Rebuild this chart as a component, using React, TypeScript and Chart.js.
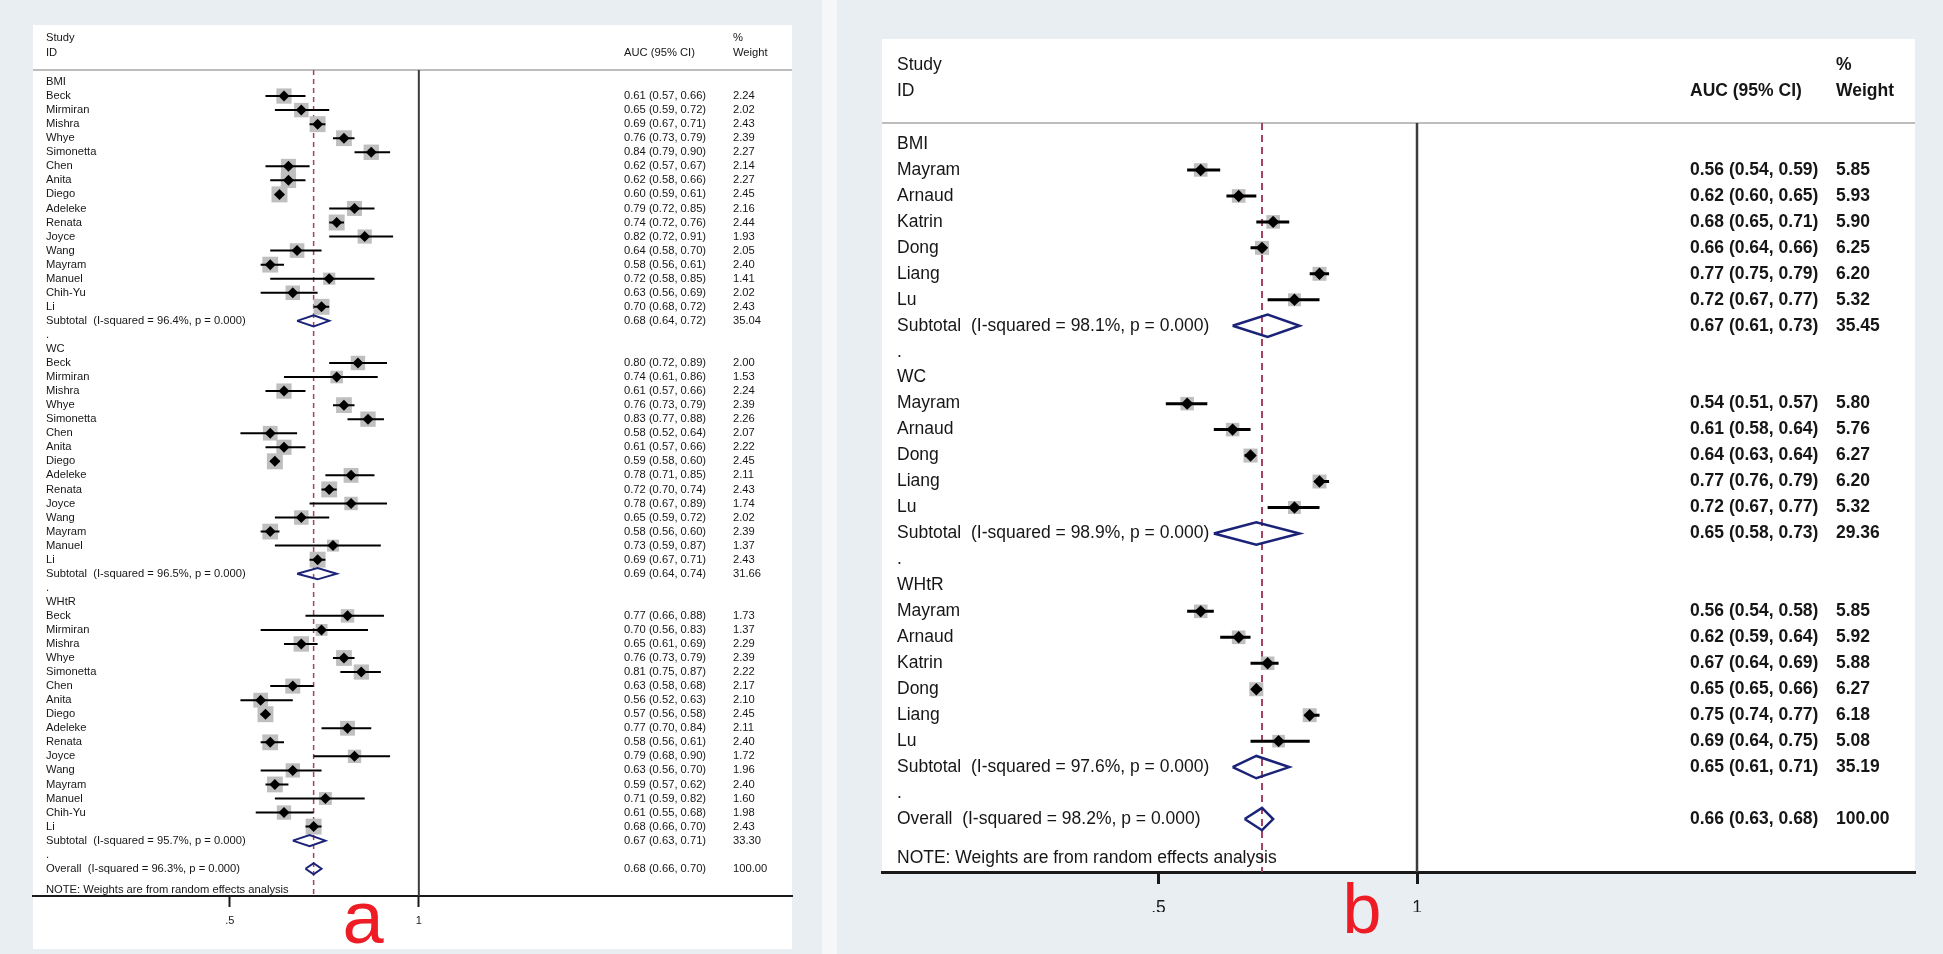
import React, { useEffect, useRef } from 'react';
import { Chart, registerables } from 'chart.js';

Chart.register(...registerables);

const FONT = '"Liberation Sans", Arial, Helvetica, sans-serif';
Chart.defaults.font.family = FONT;

// ---------------- shared ----------------
const groupNames = ['BMI', 'WC', 'WHtR'];
const tickValues = [0.5, 1];
const tickLabels = ['.5', '1'];

// ---------------- panel a ----------------
const aBmiStudies = ['Beck', 'Mirmiran', 'Mishra', 'Whye', 'Simonetta', 'Chen', 'Anita', 'Diego', 'Adeleke', 'Renata', 'Joyce', 'Wang', 'Mayram', 'Manuel', 'Chih-Yu', 'Li'];
const aBmiAuc = [0.61, 0.65, 0.69, 0.76, 0.84, 0.62, 0.62, 0.60, 0.79, 0.74, 0.82, 0.64, 0.58, 0.72, 0.63, 0.70];
const aBmiLo = [0.57, 0.59, 0.67, 0.73, 0.79, 0.57, 0.58, 0.59, 0.72, 0.72, 0.72, 0.58, 0.56, 0.58, 0.56, 0.68];
const aBmiHi = [0.66, 0.72, 0.71, 0.79, 0.90, 0.67, 0.66, 0.61, 0.85, 0.76, 0.91, 0.70, 0.61, 0.85, 0.69, 0.72];
const aBmiWeight = [2.24, 2.02, 2.43, 2.39, 2.27, 2.14, 2.27, 2.45, 2.16, 2.44, 1.93, 2.05, 2.40, 1.41, 2.02, 2.43];

const aWcStudies = ['Beck', 'Mirmiran', 'Mishra', 'Whye', 'Simonetta', 'Chen', 'Anita', 'Diego', 'Adeleke', 'Renata', 'Joyce', 'Wang', 'Mayram', 'Manuel', 'Li'];
const aWcAuc = [0.80, 0.74, 0.61, 0.76, 0.83, 0.58, 0.61, 0.59, 0.78, 0.72, 0.78, 0.65, 0.58, 0.73, 0.69];
const aWcLo = [0.72, 0.61, 0.57, 0.73, 0.77, 0.52, 0.57, 0.58, 0.71, 0.70, 0.67, 0.59, 0.56, 0.59, 0.67];
const aWcHi = [0.89, 0.86, 0.66, 0.79, 0.88, 0.64, 0.66, 0.60, 0.85, 0.74, 0.89, 0.72, 0.60, 0.87, 0.71];
const aWcWeight = [2.00, 1.53, 2.24, 2.39, 2.26, 2.07, 2.22, 2.45, 2.11, 2.43, 1.74, 2.02, 2.39, 1.37, 2.43];

const aWhtrStudies = ['Beck', 'Mirmiran', 'Mishra', 'Whye', 'Simonetta', 'Chen', 'Anita', 'Diego', 'Adeleke', 'Renata', 'Joyce', 'Wang', 'Mayram', 'Manuel', 'Chih-Yu', 'Li'];
const aWhtrAuc = [0.77, 0.70, 0.65, 0.76, 0.81, 0.63, 0.56, 0.57, 0.77, 0.58, 0.79, 0.63, 0.59, 0.71, 0.61, 0.68];
const aWhtrLo = [0.66, 0.56, 0.61, 0.73, 0.75, 0.58, 0.52, 0.56, 0.70, 0.56, 0.68, 0.56, 0.57, 0.59, 0.55, 0.66];
const aWhtrHi = [0.88, 0.83, 0.69, 0.79, 0.87, 0.68, 0.63, 0.58, 0.84, 0.61, 0.90, 0.70, 0.62, 0.82, 0.68, 0.70];
const aWhtrWeight = [1.73, 1.37, 2.29, 2.39, 2.22, 2.17, 2.10, 2.45, 2.11, 2.40, 1.72, 1.96, 2.40, 1.60, 1.98, 2.43];

const aSubI2 = [96.4, 96.5, 95.7];
const aSubAuc = [0.68, 0.69, 0.67];
const aSubLo = [0.64, 0.64, 0.63];
const aSubHi = [0.72, 0.74, 0.71];
const aSubWeight = [35.04, 31.66, 33.30];
const aOverall = [0.68, 0.66, 0.70]; // AUC, lower, upper
const aOverallI2 = 96.3;

// ---------------- panel b ----------------
const bBmiStudies = ['Mayram', 'Arnaud', 'Katrin', 'Dong', 'Liang', 'Lu'];
const bBmiAuc = [0.56, 0.62, 0.68, 0.66, 0.77, 0.72];
const bBmiLo = [0.54, 0.60, 0.65, 0.64, 0.75, 0.67];
const bBmiHi = [0.59, 0.65, 0.71, 0.66, 0.79, 0.77];
const bBmiWeight = [5.85, 5.93, 5.90, 6.25, 6.20, 5.32];

const bWcStudies = ['Mayram', 'Arnaud', 'Dong', 'Liang', 'Lu'];
const bWcAuc = [0.54, 0.61, 0.64, 0.77, 0.72];
const bWcLo = [0.51, 0.58, 0.63, 0.76, 0.67];
const bWcHi = [0.57, 0.64, 0.64, 0.79, 0.77];
const bWcWeight = [5.80, 5.76, 6.27, 6.20, 5.32];

const bWhtrStudies = ['Mayram', 'Arnaud', 'Katrin', 'Dong', 'Liang', 'Lu'];
const bWhtrAuc = [0.56, 0.62, 0.67, 0.65, 0.75, 0.69];
const bWhtrLo = [0.54, 0.59, 0.64, 0.65, 0.74, 0.64];
const bWhtrHi = [0.58, 0.64, 0.69, 0.66, 0.77, 0.75];
const bWhtrWeight = [5.85, 5.92, 5.88, 6.27, 6.18, 5.08];

const bSubI2 = [98.1, 98.9, 97.6];
const bSubAuc = [0.67, 0.65, 0.65];
const bSubLo = [0.61, 0.58, 0.61];
const bSubHi = [0.73, 0.73, 0.71];
const bSubWeight = [35.45, 29.36, 35.19];
const bOverall = [0.66, 0.63, 0.68];
const bOverallI2 = 98.2;

// ---------------- build rows ----------------
type Row = {
  kind: 'group' | 'study' | 'sub' | 'dot' | 'overall' | 'note';
  label: string;
  y: number;
  auc?: number;
  lo?: number;
  hi?: number;
  w?: number;
};

function buildRows(
  studies: string[][], auc: number[][], lo: number[][], hi: number[][], w: number[][],
  subI2: number[], subAuc: number[], subLo: number[], subHi: number[], subW: number[],
  overall: number[], overallI2: number
): Row[] {
  const rows: Row[] = [];
  let y = 0;
  groupNames.forEach((g, gi) => {
    rows.push({ kind: 'group', label: g, y: y++ });
    studies[gi].forEach((s, i) =>
      rows.push({ kind: 'study', label: s, y: y++, auc: auc[gi][i], lo: lo[gi][i], hi: hi[gi][i], w: w[gi][i] })
    );
    rows.push({
      kind: 'sub', label: `Subtotal  (I-squared = ${subI2[gi].toFixed(1)}%, p = 0.000)`, y: y++,
      auc: subAuc[gi], lo: subLo[gi], hi: subHi[gi], w: subW[gi],
    });
    rows.push({ kind: 'dot', label: '.', y: y++ });
  });
  rows.push({
    kind: 'overall', label: `Overall  (I-squared = ${overallI2.toFixed(1)}%, p = 0.000)`, y,
    auc: overall[0], lo: overall[1], hi: overall[2], w: 100,
  });
  rows.push({ kind: 'note', label: 'NOTE: Weights are from random effects analysis', y: y + 1.5 });
  return rows;
}

const rowsA = buildRows(
  [aBmiStudies, aWcStudies, aWhtrStudies],
  [aBmiAuc, aWcAuc, aWhtrAuc], [aBmiLo, aWcLo, aWhtrLo], [aBmiHi, aWcHi, aWhtrHi], [aBmiWeight, aWcWeight, aWhtrWeight],
  aSubI2, aSubAuc, aSubLo, aSubHi, aSubWeight, aOverall, aOverallI2
);
const rowsB = buildRows(
  [bBmiStudies, bWcStudies, bWhtrStudies],
  [bBmiAuc, bWcAuc, bWhtrAuc], [bBmiLo, bWcLo, bWhtrLo], [bBmiHi, bWcHi, bWhtrHi], [bBmiWeight, bWcWeight, bWhtrWeight],
  bSubI2, bSubAuc, bSubLo, bSubHi, bSubWeight, bOverall, bOverallI2
);

// ---------------- styles ----------------
const BG = '#e8eef1';

type Spec = {
  width: number;
  xMin: number; xMax: number; yMin: number; yMax: number;
  pad: { left: number; right: number; top: number; bottom: number };
  whiteTop: number; whiteBottom: number | null;
  fontSize: number; numWeight: string; headWeight: string;
  nameX: number; aucX: number; weightX: number; headerRows: [number, number];
  squareK: number; markerR: number; ciWidth: number; diamondH: number; diamondW: number;
  refWidth: number; dash: number[]; dashWidth: number;
  tickFont: number; tickLength: number; tickPadding: number; axisWidth: number;
  letter: string; letterX: number; letterY: number; letterSize: number;
};

const specA: Spec = {
  width: 822,
  xMin: 0.2431, xMax: 3.927, yMin: -0.854, yMax: 57.94,
  pad: { left: 33, right: 30, top: 70, bottom: 18 },
  whiteTop: 25, whiteBottom: 949,
  fontSize: 11.2, numWeight: 'normal', headWeight: 'normal',
  nameX: 46, aucX: 624, weightX: 733, headerRows: [-3.13, -2.06],
  squareK: 10.2, markerR: 5.5, ciWidth: 2, diamondH: 0.4, diamondW: 2,
  refWidth: 2, dash: [5, 4], dashWidth: 1.5,
  tickFont: 11, tickLength: 11, tickPadding: 7, axisWidth: 2,
  letter: 'a', letterX: 363, letterY: 943, letterSize: 74,
};

const specB: Spec = {
  width: 1106,
  xMin: 0.2383, xMax: 3.80, yMin: -0.809, yMax: 28.04,
  pad: { left: 45, right: 28, top: 123, bottom: 42 },
  whiteTop: 39, whiteBottom: null,
  fontSize: 17.5, numWeight: 'bold', headWeight: 'bold',
  nameX: 60, aucX: 853, weightX: 999, headerRows: [-3.04, -2.04],
  squareK: 5.6, markerR: 6.2, ciWidth: 3, diamondH: 0.43, diamondW: 2.5,
  refWidth: 2.5, dash: [7, 5], dashWidth: 2,
  tickFont: 17.5, tickLength: 12, tickPadding: 14, axisWidth: 3,
  letter: 'b', letterX: 525, letterY: 933, letterSize: 70,
};

const fmt = (v: number) => v.toFixed(2);

function makeChart(canvas: HTMLCanvasElement, rows: Row[], sp: Spec) {
  const studies = rows.filter((r) => r.kind === 'study');
  const summaries = rows.filter((r) => r.kind === 'sub' || r.kind === 'overall');
  const overallRow = rows.find((r) => r.kind === 'overall')!;

  const ciData: any[] = [];
  studies.forEach((r) => {
    ciData.push({ x: r.lo, y: r.y }, { x: r.hi, y: r.y }, { x: r.hi, y: null });
  });
  const diaData: any[] = [];
  summaries.forEach((r) => {
    const h = sp.diamondH;
    diaData.push(
      { x: r.lo, y: r.y }, { x: r.auc, y: r.y - h }, { x: r.hi, y: r.y },
      { x: r.auc, y: r.y + h }, { x: r.lo, y: r.y }, { x: r.lo, y: null }
    );
  });

  const bgPlugin = {
    id: 'bg',
    beforeDraw(chart: any) {
      const { ctx, chartArea: ca } = chart;
      ctx.save();
      ctx.fillStyle = BG;
      ctx.fillRect(0, 0, chart.width, chart.height);
      ctx.fillStyle = '#ffffff';
      const bottom = sp.whiteBottom ?? ca.bottom;
      ctx.fillRect(ca.left, sp.whiteTop, ca.right - ca.left, bottom - sp.whiteTop);
      ctx.strokeStyle = '#bdbdbd';
      ctx.lineWidth = 2;
      ctx.beginPath();
      ctx.moveTo(ca.left, ca.top);
      ctx.lineTo(ca.right, ca.top);
      ctx.stroke();
      ctx.restore();
    },
  };

  const textPlugin = {
    id: 'texts',
    afterDraw(chart: any) {
      const { ctx } = chart;
      const ys = chart.scales.y;
      ctx.save();
      ctx.fillStyle = '#161616';
      ctx.textBaseline = 'middle';
      ctx.textAlign = 'left';
      const nameFont = `normal ${sp.fontSize}px ${FONT}`;
      const numFont = `${sp.numWeight} ${sp.fontSize}px ${FONT}`;
      const headFont = `${sp.headWeight} ${sp.fontSize}px ${FONT}`;
      const h0 = ys.getPixelForValue(sp.headerRows[0]);
      const h1 = ys.getPixelForValue(sp.headerRows[1]);
      ctx.font = nameFont;
      ctx.fillText('Study', sp.nameX, h0);
      ctx.fillText('ID', sp.nameX, h1);
      ctx.font = headFont;
      ctx.fillText('AUC (95% CI)', sp.aucX, h1);
      ctx.fillText('%', sp.weightX, h0);
      ctx.fillText('Weight', sp.weightX, h1);
      rows.forEach((r) => {
        const py = ys.getPixelForValue(r.y);
        ctx.font = nameFont;
        ctx.fillText(r.label, sp.nameX, py);
        if (r.auc !== undefined) {
          ctx.font = numFont;
          ctx.fillText(`${fmt(r.auc)} (${fmt(r.lo!)}, ${fmt(r.hi!)})`, sp.aucX, py);
          ctx.fillText((r.w as number).toFixed(2), sp.weightX, py);
        }
      });
      ctx.fillStyle = '#ee1c25';
      ctx.textAlign = 'center';
      ctx.textBaseline = 'alphabetic';
      ctx.font = `normal ${sp.letterSize}px ${FONT}`;
      ctx.fillText(sp.letter, sp.letterX, sp.letterY);
      ctx.restore();
    },
  };

  return new Chart(canvas, {
    type: 'scatter',
    data: {
      datasets: [
        {
          type: 'scatter',
          data: studies.map((r) => ({ x: r.auc, y: r.y })),
          pointStyle: 'rectRot',
          pointRadius: sp.markerR,
          pointBackgroundColor: '#000000',
          pointBorderWidth: 0,
          order: 0,
        } as any,
        {
          type: 'line',
          data: diaData,
          borderColor: '#1b2378',
          borderWidth: sp.diamondW,
          pointRadius: 0,
          fill: false,
          tension: 0,
          spanGaps: false,
          borderJoinStyle: 'miter',
          order: 1,
        } as any,
        {
          type: 'line',
          data: ciData,
          borderColor: '#000000',
          borderWidth: sp.ciWidth,
          pointRadius: 0,
          fill: false,
          spanGaps: false,
          borderCapStyle: 'butt',
          order: 2,
        } as any,
        {
          type: 'scatter',
          data: studies.map((r) => ({ x: r.auc, y: r.y })),
          pointStyle: 'rect',
          pointRadius: (c: any) => (sp.squareK * Math.sqrt(studies[c.dataIndex].w as number)) / Math.SQRT2,
          pointBackgroundColor: '#bfbfbf',
          pointBorderWidth: 0,
          order: 3,
        } as any,
        {
          type: 'line',
          data: [{ x: overallRow.auc, y: sp.yMin }, { x: overallRow.auc, y: sp.yMax }],
          borderColor: '#a3435f',
          borderWidth: sp.dashWidth,
          borderDash: sp.dash,
          pointRadius: 0,
          fill: false,
          order: 4,
        } as any,
        {
          type: 'line',
          data: [{ x: 1, y: sp.yMin }, { x: 1, y: sp.yMax }],
          borderColor: '#3c3c3c',
          borderWidth: sp.refWidth,
          pointRadius: 0,
          fill: false,
          order: 5,
        } as any,
      ],
    },
    options: {
      animation: false,
      responsive: false,
      devicePixelRatio: 1,
      events: [],
      layout: { padding: sp.pad },
      plugins: { legend: { display: false }, tooltip: { enabled: false }, title: { display: false } },
      scales: {
        x: {
          type: 'logarithmic',
          position: 'bottom',
          min: sp.xMin,
          max: sp.xMax,
          bounds: 'data',
          afterBuildTicks: (s: any) => {
            s.ticks = tickValues.map((v) => ({ value: v }));
          },
          afterFit: (s: any) => {
            s.height = 40;
          },
          ticks: {
            autoSkip: false,
            maxRotation: 0,
            padding: sp.tickPadding,
            color: '#1a1a1a',
            font: { family: FONT, size: sp.tickFont },
            callback: (_v: any, i: number) => tickLabels[i],
          },
          grid: {
            display: true,
            drawOnChartArea: false,
            drawTicks: true,
            tickLength: sp.tickLength,
            tickWidth: sp.axisWidth,
            tickColor: '#1a1a1a',
            color: '#1a1a1a',
          },
          border: { display: true, color: '#1a1a1a', width: sp.axisWidth },
        } as any,
        y: {
          type: 'linear',
          reverse: true,
          min: sp.yMin,
          max: sp.yMax,
          display: false,
        },
      },
    },
    plugins: [bgPlugin, textPlugin],
  } as any);
}

function ForestPanel({ rows, sp, left }: { rows: Row[]; sp: Spec; left: number }) {
  const ref = useRef<HTMLCanvasElement | null>(null);
  useEffect(() => {
    const chart = makeChart(ref.current as HTMLCanvasElement, rows, sp);
    return () => chart.destroy();
  }, []);
  return (
    <canvas
      ref={ref}
      width={sp.width}
      height={954}
      style={{ position: 'absolute', left, top: 0, width: sp.width, height: 954, display: 'block' }}
    />
  );
}

export default function App() {
  return (
    <div
      style={{
        position: 'absolute',
        left: 0,
        top: 0,
        width: 1943,
        height: 954,
        background: '#f5f7f8',
        overflow: 'hidden',
      }}
    >
      <ForestPanel rows={rowsA} sp={specA} left={0} />
      <ForestPanel rows={rowsB} sp={specB} left={837} />
    </div>
  );
}
